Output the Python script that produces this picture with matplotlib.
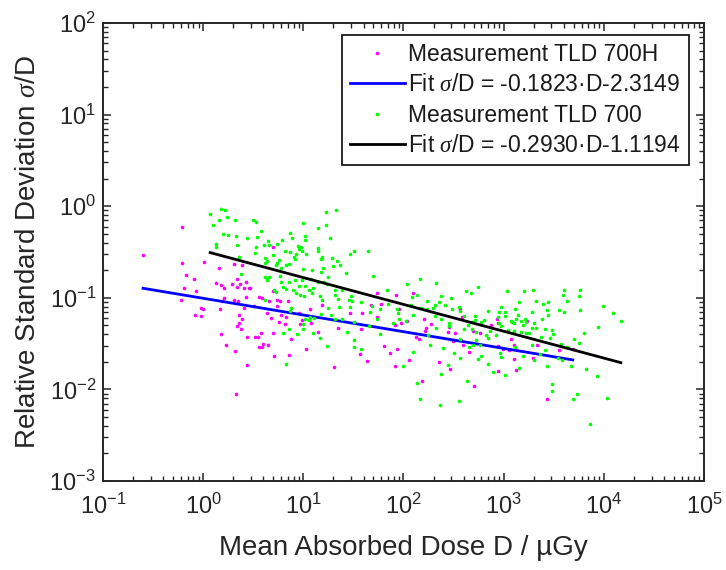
import numpy as np
import matplotlib
matplotlib.use('Agg')
import matplotlib.pyplot as plt
from matplotlib.ticker import LogLocator, NullFormatter

# ---------------- data (log10 values) ----------------
# TLD 700H measurements (magenta)
log_dose_700h = [
    -0.60, -0.21, -0.21, 0.01, 0.16, 0.31, 0.39, -0.17, -0.09, 0.13,
    0.18, 0.21, 0.29, 0.34, 0.37, 0.34, 0.41, 0.43, 0.46, -0.19,
    -0.07, -0.22, 0.43, 0.31, 0.35, 0.21, 0.19, -0.02, 0.00, 0.17,
    0.51, -0.08, -0.02, 0.36, 0.39, 0.36, 0.34, 0.38, 0.18, 0.44,
    0.52, 0.23, 0.32, 0.44, 0.33, 0.41, 0.70, 0.47, 0.70, 0.56,
    0.59, 0.66, 0.74, 0.77, 0.85, 1.07, 1.19, 1.74, 1.68, 2.09,
    1.93, 1.96, 1.78, 0.74, 0.64, 0.68, 0.76, 0.78, 0.83, 0.82,
    0.96, 0.97, 0.99, 1.08, 0.58, 0.55, 0.70, 0.60, 0.56, 0.59,
    0.65, 0.88, 1.15, 0.71, 0.86, 1.03, 1.35, 1.47, 1.59, 1.74,
    1.58, 1.81, 1.57, 1.64, 1.31, 1.92, 1.98, 2.03, 2.20, 2.22,
    2.21, 2.27, 2.12, 2.15, 2.44, 2.45, 2.51, 2.49, 2.57, 2.59,
    2.65, 2.69, 2.76, 2.93, 2.94, 2.87, 2.94, 2.99, 3.05, 3.10,
    3.10, 1.87, 1.94, 2.05, 1.92, 2.35, 2.46, 2.18, 2.70, 2.94,
    2.56, 2.58, 3.23, 3.07, 3.33, 3.55, 3.69, 3.29, 3.12, 3.43]
log_rsd_700h = [
    -0.53, -0.23, -0.62, -0.61, -0.67, -0.63, -0.64, -0.75, -0.79, -0.84,
    -0.86, -0.89, -0.85, -0.79, -0.85, -0.88, -0.89, -0.83, -0.89, -0.89,
    -0.93, -1.02, -0.99, -1.02, -1.04, -1.00, -1.03, -1.11, -1.12, -1.12,
    -1.09, -1.19, -1.20, -1.19, -1.23, -1.27, -1.31, -1.34, -1.39, -1.43,
    -1.43, -1.51, -1.58, -1.73, -2.05, -1.11, -0.44, -0.89, -0.93, -0.99,
    -1.00, -1.03, -1.02, -1.04, -1.04, -1.12, -1.08, -0.95, -1.08, -0.95,
    -0.97, -1.12, -1.07, -1.09, -1.17, -1.22, -1.26, -1.19, -1.21, -1.29,
    -1.17, -1.29, -1.24, -1.28, -1.38, -1.43, -1.38, -1.50, -1.54, -1.54,
    -1.52, -1.45, -1.37, -1.64, -1.62, -1.56, -1.33, -1.17, -1.17, -1.21,
    -1.34, -1.53, -1.61, -1.69, -1.76, -1.30, -1.28, -1.25, -1.23, -1.33,
    -1.36, -1.29, -1.43, -1.45, -1.37, -1.32, -1.38, -1.47, -1.46, -1.52,
    -1.59, -1.36, -1.38, -1.23, -1.27, -1.30, -1.53, -1.56, -1.57, -1.52,
    -1.67, -1.60, -1.56, -1.68, -1.75, -1.70, -1.78, -1.91, -1.96, -1.80,
    -1.12, -1.21, -1.25, -1.45, -1.52, -1.57, -1.56, -1.66, -1.79, -2.10]

# TLD 700 measurements (green)
log_dose_700 = [
    0.07, 0.18, 0.22, 0.16, 0.24, 0.32, 0.50, 0.10, 0.20, 0.25,
    0.33, 0.44, 0.13, 0.13, 0.34, 0.36, 0.52, 0.38,
    1.23, 1.33, 0.53, 1.00, 1.15, 1.23, 0.58, 0.54, 0.87, 1.02,
    1.02, 1.27, 0.79, 0.89, 0.65, 0.66, 0.61, 0.74, 0.53, 0.95,
    0.98, 0.96, 0.82, 0.87, 1.15, 1.15, 0.99, 0.70, 0.93, 1.03,
    0.91, 0.92, 1.19, 1.18, 1.29, 1.34, 1.37, 1.47, 1.51, 1.65,
    0.76, 0.74, 0.73, 0.62, 0.64, 0.62, 0.86, 0.83, 0.78, 1.09,
    1.00, 1.18, 1.20, 1.30, 1.43, 1.70, 0.62, 0.64, 0.66, 0.77,
    0.78, 0.86, 0.92, 0.99, 1.08, 1.25, 1.15, 1.21, 1.24, 0.80,
    0.83, 0.90, 0.96, 1.02, 1.06, 1.10, 0.71, 0.73, 0.93, 0.97,
    1.01, 1.09, 1.17, 1.19, 1.32, 1.39, 1.32, 1.35, 1.46, 1.49,
    1.48, 1.58, 1.25, 1.36, 0.88, 0.62,
    2.16, 2.32, 2.03, 1.84, 2.13, 2.08, 2.37, 2.47, 2.62, 2.67,
    2.74, 3.03, 2.23, 2.35, 2.31, 2.41, 1.85, 2.07, 2.97, 3.20,
    3.29, 3.60, 3.76, 3.59, 3.75, 3.15, 3.32, 3.39, 3.44, 3.63,
    0.87, 1.07, 1.02, 1.06, 1.11, 1.00, 1.00, 1.18, 1.28, 1.32,
    1.39, 1.47, 1.51, 0.86, 0.80, 0.94, 1.10, 1.17, 1.24, 1.44,
    1.51, 1.51, 1.58, 0.83, 1.67, 1.69, 1.77, 1.74, 1.66, 1.77,
    1.94, 1.95, 1.96, 2.02, 2.09, 2.17, 2.23, 2.29, 2.31, 2.37,
    2.48, 2.55, 2.56, 2.60, 2.45, 2.45, 2.32, 2.60, 2.64, 2.68,
    2.68, 2.71, 2.71, 2.77, 2.84, 2.80, 2.86, 2.72, 2.72, 2.82,
    2.84, 2.92, 2.95, 2.97, 2.94, 2.95, 3.01, 3.01, 3.04, 3.07,
    3.10, 3.10, 2.26, 2.39, 2.09, 2.50, 2.56, 2.65, 2.69, 2.76,
    2.74, 2.77, 2.84, 2.89, 2.96, 2.97, 3.01, 2.44, 2.37, 2.63,
    2.00, 2.13, 2.16, 2.36, 2.55, 2.56, 2.24, 1.90,
    3.11, 3.28, 3.43, 3.44, 3.55, 3.60, 3.76, 3.99, 4.09, 4.17,
    3.08, 3.12, 3.14, 3.17, 3.21, 3.22, 3.19, 3.30, 3.38, 3.94,
    3.28, 3.32, 3.41, 3.48, 3.49, 3.10, 3.17, 3.22, 3.25, 3.37,
    3.46, 3.70, 3.80, 3.75, 3.57, 3.63, 3.28, 3.11, 3.41, 3.36,
    3.19, 3.30, 3.54, 3.58, 3.67, 3.82, 3.43, 3.15, 3.93, 3.48,
    3.48, 3.73, 3.69, 4.03, 3.86]
log_rsd_700 = [
    -0.08, -0.03, -0.04, -0.15, -0.12, -0.15, -0.15, -0.21, -0.30, -0.31,
    -0.33, -0.35, -0.41, -0.44, -0.42, -0.56, -0.51, -0.74,
    -0.06, -0.04, -0.17, -0.18, -0.24, -0.20, -0.27, -0.34, -0.29, -0.33,
    -0.37, -0.35, -0.37, -0.35, -0.38, -0.42, -0.42, -0.41, -0.44, -0.43,
    -0.45, -0.47, -0.49, -0.50, -0.46, -0.49, -0.49, -0.53, -0.52, -0.52,
    -0.56, -0.58, -0.55, -0.58, -0.57, -0.60, -0.64, -0.52, -0.49, -0.49,
    -0.59, -0.62, -0.64, -0.57, -0.60, -0.62, -0.63, -0.64, -0.68, -0.70,
    -0.69, -0.72, -0.67, -0.65, -0.73, -0.76, -0.77, -0.81, -0.77, -0.76,
    -0.83, -0.83, -0.81, -0.81, -0.79, -0.77, -0.83, -0.83, -0.85, -0.88,
    -0.90, -0.91, -0.87, -0.87, -0.91, -0.89, -0.92, -0.94, -0.95, -0.97,
    -0.98, -0.95, -0.98, -1.02, -0.91, -0.92, -0.97, -1.01, -1.02, -1.04,
    -0.98, -1.05, -1.11, -1.10, -1.11, -1.02,
    -0.80, -0.84, -0.85, -0.91, -0.97, -0.99, -0.98, -1.00, -0.93, -0.95,
    -0.88, -0.93, -1.04, -1.05, -1.08, -1.08, -1.07, -1.08, -1.10, -0.93,
    -0.91, -0.92, -0.92, -0.97, -0.98, -1.05, -1.04, -1.07, -1.05, -1.03,
    -1.14, -1.21, -1.23, -1.24, -1.22, -1.29, -1.34, -1.18, -1.19, -1.23,
    -1.23, -1.10, -1.26, -1.34, -1.38, -1.39, -1.38, -1.44, -1.53, -1.37,
    -1.46, -1.54, -1.56, -1.72, -1.15, -1.09, -1.12, -1.23, -1.31, -1.40,
    -1.12, -1.17, -1.23, -1.25, -1.19, -1.11, -1.12, -1.11, -1.20, -1.23,
    -1.12, -1.10, -1.14, -1.20, -1.27, -1.31, -1.33, -1.34, -1.30, -1.26,
    -1.34, -1.20, -1.24, -1.26, -1.14, -1.24, -1.36, -1.37, -1.46, -1.41,
    -1.44, -1.41, -1.28, -1.31, -1.21, -1.16, -1.16, -1.20, -1.35, -1.25,
    -1.27, -1.36, -1.52, -1.55, -1.59, -1.60, -1.66, -1.54, -1.51, -1.51,
    -1.67, -1.64, -1.72, -1.81, -1.60, -1.65, -1.84, -1.73, -1.83, -1.91,
    -1.75, -1.93, -2.10, -2.17, -2.13, -1.45, -1.41, -1.27,
    -1.12, -1.16, -1.13, -1.19, -1.13, -1.16, -1.13, -1.09, -1.17, -1.25,
    -1.26, -1.23, -1.19, -1.25, -1.23, -1.26, -1.30, -1.27, -1.23, -1.32,
    -1.33, -1.33, -1.34, -1.35, -1.39, -1.36, -1.37, -1.38, -1.38, -1.43,
    -1.44, -1.45, -1.38, -1.49, -1.50, -1.54, -1.52, -1.54, -1.57, -1.61,
    -1.64, -1.68, -1.66, -1.68, -1.75, -1.78, -1.75, -1.77, -1.85, -1.94,
    -2.02, -2.05, -2.11, -2.09, -2.38]

# fit coefficients: ln(sigma/D) = a*ln(D) + b
fit_700h = (-0.1823, -2.3149)
fit_700 = (-0.2930, -1.1194)

labels = ['Measurement TLD 700H',
          'Fit $\\sigma$/D = -0.1823\u00b7D-2.3149',
          'Measurement TLD 700',
          'Fit $\\sigma$/D = -0.2930\u00b7D-1.1194']

# ---------------- style ----------------
plt.rcParams['font.family'] = ['Liberation Sans', 'DejaVu Sans']
plt.rcParams['mathtext.fontset'] = 'custom'
plt.rcParams['mathtext.rm'] = 'Liberation Sans'
plt.rcParams['mathtext.it'] = 'Liberation Serif:italic'
plt.rcParams['axes.unicode_minus'] = False

TXT = '#262626'

fig = plt.figure(figsize=(7.26, 5.70), dpi=100)
ax = fig.add_axes([103 / 726, 89 / 570, 601 / 726, 458 / 570])
ax.set_xscale('log')
ax.set_yscale('log')

d700h = np.power(10.0, log_dose_700h)
r700h = np.power(10.0, log_rsd_700h)
d700 = np.power(10.0, log_dose_700)
r700 = np.power(10.0, log_rsd_700)

ax.plot(d700h, r700h, linestyle='none', marker='o', markersize=2.6,
        markeredgewidth=0, color='#ff00ff', label=labels[0])
xf1 = np.geomspace(d700h.min(), d700h.max(), 200)
ax.plot(xf1, np.exp(fit_700h[0] * np.log(xf1) + fit_700h[1]),
        color='#0000ff', lw=2.0, label=labels[1])
ax.plot(d700, r700, linestyle='none', marker='o', markersize=2.6,
        markeredgewidth=0, color='#00ff00', label=labels[2])
xf2 = np.geomspace(d700.min(), d700.max(), 200)
ax.plot(xf2, np.exp(fit_700[0] * np.log(xf2) + fit_700[1]),
        color='black', lw=2.0, label=labels[3])

ax.set_xlim(1e-1, 1e5)
ax.set_ylim(1e-3, 1e2)

for a in (ax.xaxis, ax.yaxis):
    a.set_major_locator(LogLocator(base=10, numticks=20))
    a.set_minor_locator(LogLocator(base=10, subs=np.arange(2, 10), numticks=200))
    a.set_minor_formatter(NullFormatter())

ax.tick_params(which='both', direction='in', top=True, right=True,
               colors=TXT, labelsize=17)
ax.tick_params(which='major', length=6, width=1.1)
ax.tick_params(which='minor', length=3.5, width=1.0)
ax.tick_params(axis='x', which='major', pad=9)
ax.tick_params(axis='y', which='major', pad=5)
for s in ax.spines.values():
    s.set_linewidth(1.4)
    s.set_color(TXT)

ax.set_xlabel('Mean Absorbed Dose D / \u00b5Gy', fontsize=20, color=TXT, labelpad=12)
ax.set_ylabel('Relative Standard Deviation $\\sigma$/D', fontsize=20, color=TXT, labelpad=6)

leg = ax.legend(loc='upper right', bbox_to_anchor=(0.975, 0.974),
                fontsize=16.5, frameon=True, fancybox=False, framealpha=1,
                edgecolor='#1a1a1a', borderpad=0.35, labelspacing=0.32,
                handlelength=2.4, handletextpad=0.15, borderaxespad=0,
                numpoints=1, markerscale=1.0)
leg.get_frame().set_linewidth(1.3)
for t in leg.get_texts():
    t.set_color('#1a1a1a')

fig.savefig('out.png', dpi=100)
